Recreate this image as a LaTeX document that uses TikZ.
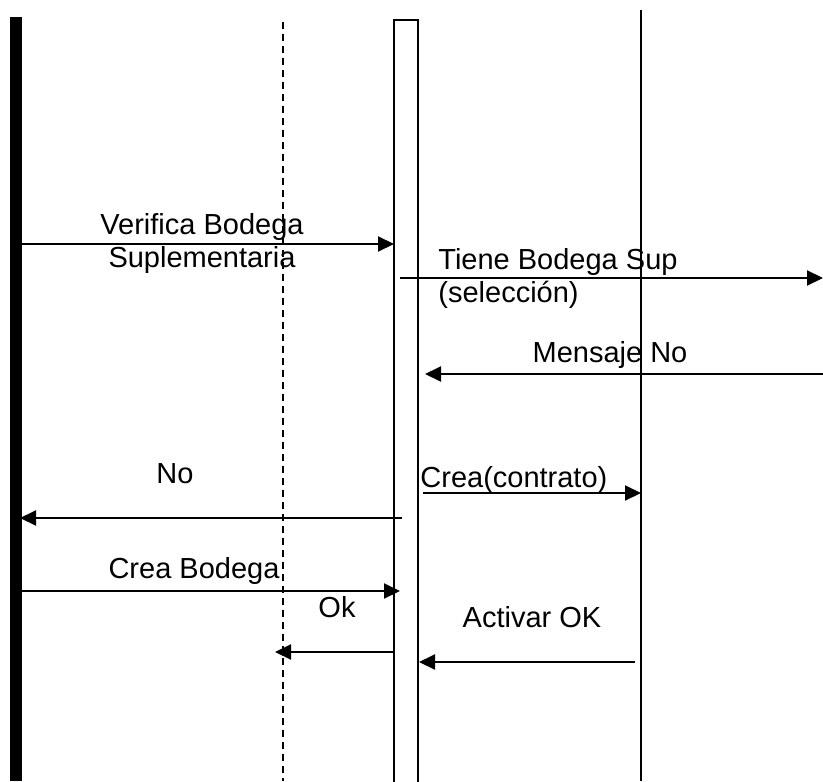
\documentclass[tikz,border=0pt]{standalone}
\usepackage{fontspec}
\setmainfont{Liberation Sans}
\usepackage{tikz}
\usetikzlibrary{arrows.meta}

\begin{document}
\begin{tikzpicture}[x=0.5pt,y=-0.5pt,
    msg/.style={line width=1pt,-{Triangle[length=8pt,width=7.5pt]}},
    lbl/.style={font=\fontsize{14.5}{16.5}\selectfont,inner sep=0pt},
    vida/.style={line width=0.6pt}]
        \useasboundingbox (0,0) rectangle (823,781);

        % Lignes de vie
        \fill (10,17) rectangle (22,781);
        \draw[vida, dash pattern=on 3.5pt off 2.5pt] (283,22) -- (283,781);
        \draw[vida] (394,800) -- (394,20) -- (418,20) -- (418,800);
        \draw[vida] (641,10) -- (641,781);

        % Extremites des messages
        \coordinate (verA) at (10,244);  \coordinate (verB) at (394,244);
        \coordinate (tieA) at (400,278); \coordinate (tieB) at (823,278);
        \coordinate (menA) at (823,374); \coordinate (menB) at (425,374);
        \coordinate (noA)  at (402,518); \coordinate (noB)  at (20,518);
        \coordinate (conA) at (423,493); \coordinate (conB) at (641,493);
        \coordinate (creA) at (22,591);  \coordinate (creB) at (400,591);
        \coordinate (okA)  at (395,652); \coordinate (okB)  at (275,652);
        \coordinate (actA) at (635,662); \coordinate (actB) at (419,662);

        % Messages
        \draw[msg] (verA) -- (verB);
        \draw[msg] (tieA) -- (tieB);
        \draw[msg] (menA) -- (menB);
        \draw[msg] (noA) -- (noB);
        \draw[msg] (conA) -- (conB);
        \draw[msg] (creA) -- (creB);
        \draw[msg] (okA) -- (okB);
        \draw[msg] (actA) -- (actB);

        % Etiquettes
        \node[lbl, align=center] (verL) at (202,243) {Verifica Bodega\\Suplementaria};
        \node[lbl, align=left, anchor=west] (tieL) at (438,278) {Tiene Bodega Sup\\(selección)};
        \node[lbl, anchor=base] (menL) at (610,362) {Mensaje No};
        \node[lbl, anchor=base] (noL) at (175,483) {No};
        \node[lbl, anchor=base west] (conL) at (420,487) {Crea(contrato)};
        \node[lbl, anchor=base] (creL) at (194,578) {Crea Bodega};
        \node[lbl, anchor=base] (okL) at (337,617) {Ok};
        \node[lbl, anchor=base] (actL) at (532,627) {Activar OK};
    \end{tikzpicture}
\end{document}
